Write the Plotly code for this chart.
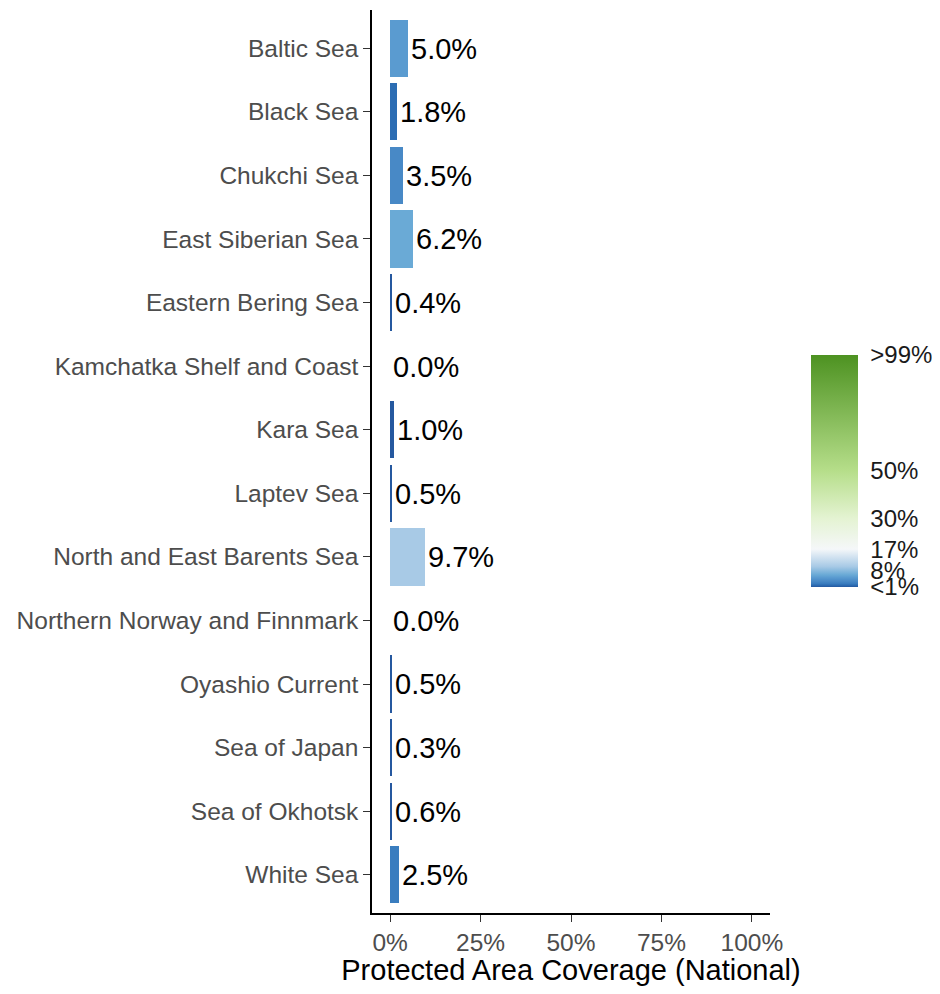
import plotly.graph_objects as go

# data
regions = ["Baltic Sea", "Black Sea", "Chukchi Sea", "East Siberian Sea",
           "Eastern Bering Sea", "Kamchatka Shelf and Coast", "Kara Sea",
           "Laptev Sea", "North and East Barents Sea", "Northern Norway and Finnmark",
           "Oyashio Current", "Sea of Japan", "Sea of Okhotsk", "White Sea"]
coverage = [5.0, 1.8, 3.5, 6.2, 0.4, 0.0, 1.0, 0.5, 9.7, 0.0, 0.5, 0.3, 0.6, 2.5]

cbar_vals = [1, 8, 17, 30, 50, 99]
cbar_text = ["<1%", "8%", "17%", "30%", "50%", ">99%"]
xticks = [0, 25, 50, 75, 100]

# blue -> white -> green scale, limits 1..99
lo, hi = 1, 99
stops = [(1, "#25589f"), (1.8, "#2c6db3"), (2.5, "#3a7dbf"), (3.5, "#4889c6"),
         (5.0, "#5a9bd0"), (6.2, "#6aaad6"), (9.7, "#a8cae6"), (17, "#f5f7f9"),
         (30, "#e4f3d2"), (50, "#b6de8a"), (99, "#4d9221")]
colorscale = [[(v - lo) / (hi - lo), c] for v, c in stops]

font = "Liberation Sans, Arial, sans-serif"

fig = go.Figure(go.Bar(
    y=regions,
    x=coverage,
    orientation="h",
    width=0.9,
    marker=dict(
        color=coverage,
        colorscale=colorscale,
        cmin=lo,
        cmax=hi,
        line=dict(width=0),
        colorbar=dict(
            tickvals=cbar_vals,
            ticktext=cbar_text,
            ticks="outside",
            tickcolor="rgba(255,255,255,0)",
            ticklen=8,
            thickness=47,
            x=1.102,
            xanchor="left",
            y=0.4895,
            yanchor="middle",
            len=0.257,
            ypad=0,
            xpad=0,
            outlinewidth=0,
            tickfont=dict(family=font, size=24, color="#1a1a1a"),
        ),
    ),
    text=[f"{v:.1f}%" for v in coverage],
    textposition="outside",
    constraintext="none",
    cliponaxis=False,
    textfont=dict(family=font, size=29, color="black"),
    hoverinfo="x+y",
))

# page body adds 8px, so the figure is shrunk to fit the window
fig.update_layout(
    width=932,
    height=978,
    margin=dict(l=364, r=170, t=2, b=73, autoexpand=False),
    plot_bgcolor="white",
    paper_bgcolor="white",
    showlegend=False,
    font=dict(family=font),
    bargap=0,
)

fig.update_xaxes(
    range=[-5, 105],
    tickvals=xticks,
    ticktext=[f"{t}%" for t in xticks],
    ticks="outside",
    ticklen=7,
    tickcolor="#333333",
    tickfont=dict(family=font, size=24.5, color="#4d4d4d"),
    showline=True,
    linecolor="black",
    linewidth=1.5,
    showgrid=False,
    zeroline=False,
    automargin=False,
    title=dict(text="Protected Area Coverage (National)",
               font=dict(family=font, size=29, color="black"), standoff=4),
)

fig.update_yaxes(
    categoryorder="array",
    categoryarray=regions,
    range=[13.6, -0.6],
    ticks="outside",
    ticklen=7,
    tickcolor="#333333",
    ticklabelstandoff=0,
    tickfont=dict(family=font, size=24.5, color="#4d4d4d"),
    showline=True,
    linecolor="black",
    linewidth=1.5,
    showgrid=False,
    zeroline=False,
    automargin=False,
)

fig.write_html("out.html")
